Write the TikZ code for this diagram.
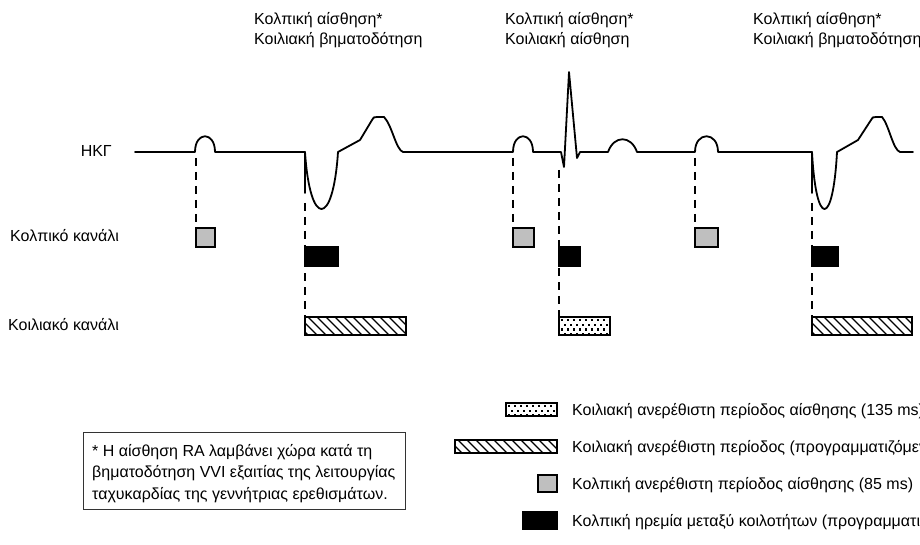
\documentclass[tikz,border=0pt]{standalone}
\usepackage{fontspec}
\setmainfont{Liberation Sans}
\newcommand\dotsin[4]{%
  \begin{scope}
    \clip (#1,#2) rectangle (#3,#4);
    \foreach \qq in {0,...,4}{%
      \foreach \pp in {0,...,18}{%
        \fill ({#1+2+\pp*6+mod(\qq,2)*3},{#2+2.2+\qq*4.6}) rectangle ++(2.2,2.2);
      }}
  \end{scope}}
\newcommand\hatchin[4]{%
  \begin{scope}
    \clip (#1,#2) rectangle (#3,#4);
    \foreach \kk in {-24,-15,...,120}{%
      \draw[line width=1.1pt] ({#1+\kk},#2) -- ++(24,24);
    }
  \end{scope}}
\begin{document}
\begin{tikzpicture}[x=1pt,y=-1pt,
  ecg/.style={line width=1.8pt,line join=round,line cap=round},
  guide/.style={line width=1.4pt,dash pattern=on 8pt off 6pt},
  boxline/.style={line width=1.4pt},
  lbl/.style={font=\fontsize{16}{20}\selectfont,inner sep=0pt},
  grayfill/.style={boxline,fill=black!25},
  blackfill/.style={boxline,fill=black},
  notebox/.style={line width=0.8pt,draw=black!80}]
\useasboundingbox (0,0) rectangle (920,545);
\clip (0,0) rectangle (920,545);
\fill[white] (0,0) rectangle (920,545);

% top labels
\node[lbl,anchor=base west] (t1a) at (254,25) {Κολπική αίσθηση*};
\node[lbl,anchor=base west] (t1b) at (254,45) {Κοιλιακή βηματοδότηση};
\node[lbl,anchor=base west] (t2a) at (505,25) {Κολπική αίσθηση*};
\node[lbl,anchor=base west] (t2b) at (505,45) {Κοιλιακή αίσθηση};
\node[lbl,anchor=base west] (t3a) at (753,25) {Κολπική αίσθηση*};
\node[lbl,anchor=base west] (t3b) at (753,45) {Κοιλιακή βηματοδότηση};

% row labels
\node[lbl,anchor=base east] (ecgl) at (112,157) {ΗΚΓ};
\node[lbl,anchor=base west] (achan) at (10,242) {Κολπικό κανάλι};
\node[lbl,anchor=base west] (vchan) at (8,330) {Κοιλιακό κανάλι};

% guides
\draw[guide] (196,158) -- (196,228);
\draw[guide] (305,203) -- (305,317);
\draw[guide] (513,158) -- (513,228);
\draw[guide] (559,170) -- (559,317);
\draw[guide] (695,158) -- (695,228);
\draw[guide] (812,203) -- (812,317);

% ECG trace
\draw[ecg] (135,152) -- (195,152)
  .. controls (195,131) and (215,131) .. (215,152)
  -- (305,152)
  .. controls (310,228) and (333,228) .. (338,152)
  -- (360,140) -- (372,120) .. controls (374,117) .. (377,117) -- (384,117)
  .. controls (392,125) and (396,150) .. (403,152)
  -- (513,152) .. controls (513,131) and (533,131) .. (533,152)
  -- (561,152) -- (564,167) -- (569,72) -- (577,158) -- (580,152)
  -- (608,152) .. controls (614,135) and (631,135) .. (637,152)
  -- (695,152) .. controls (695,131) and (718,131) .. (718,152)
  -- (812,152) .. controls (816,228) and (833,228) .. (837,152)
  -- (858,140) -- (871,120) .. controls (873,117) .. (876,117) -- (882,117)
  .. controls (889,125) and (893,150) .. (900,152) -- (913,152);
\draw[ecg] (305,152) -- (305,193);
\draw[ecg] (812,152) -- (812,193);

% atrial channel
\draw[grayfill] (196,228) rectangle (215,247);
\draw[grayfill] (513,228) rectangle (534,247);
\draw[grayfill] (695,228) rectangle (718,247);
\draw[blackfill] (305,247) rectangle (338,266);
\draw[blackfill] (559,247) rectangle (580,266);
\draw[blackfill] (812,247) rectangle (838,266);

% ventricular channel
\fill[white] (305,317) rectangle (406,335);
\hatchin{305}{317}{406}{335}
\draw[boxline] (305,317) rectangle (406,335);
\fill[white] (559,317) rectangle (610,335);
\dotsin{559}{317}{610}{335}
\draw[boxline] (559,317) rectangle (610,335);
\fill[white] (812,317) rectangle (912,335);
\hatchin{812}{317}{912}{335}
\draw[boxline] (812,317) rectangle (912,335);

% note box
\draw[notebox] (83,432) rectangle (405,509);
\node[lbl,anchor=base west] (n1) at (92,456) {* Η αίσθηση RA λαμβάνει χώρα κατά τη};
\node[lbl,anchor=base west] (n2) at (92,477.5) {βηματοδότηση VVI εξαιτίας της λειτουργίας};
\node[lbl,anchor=base west] (n3) at (92,499) {ταχυκαρδίας της γεννήτριας ερεθισμάτων.};

% legend
\fill[white] (506,403) rectangle (557,416);
\dotsin{506}{403}{557}{416}
\draw[boxline] (506,403) rectangle (557,416);
\fill[white] (455,440) rectangle (557,453);
\hatchin{455}{440}{557}{453}
\draw[boxline] (455,440) rectangle (557,453);
\draw[grayfill] (538,475) rectangle (557,492);
\draw[blackfill] (523,512) rectangle (557,529);
\node[lbl,anchor=base west] (l1) at (572,415) {Κοιλιακή ανερέθιστη περίοδος αίσθησης (135 ms)};
\node[lbl,anchor=base west] (l2) at (572,452) {Κοιλιακή ανερέθιστη περίοδος (προγραμματιζόμενη)};
\node[lbl,anchor=base west] (l3) at (572,489) {Κολπική ανερέθιστη περίοδος αίσθησης (85 ms)};
\node[lbl,anchor=base west] (l4) at (572,526) {Κολπική ηρεμία μεταξύ κοιλοτήτων (προγραμματιζόμενη)};
\end{tikzpicture}
\end{document}
